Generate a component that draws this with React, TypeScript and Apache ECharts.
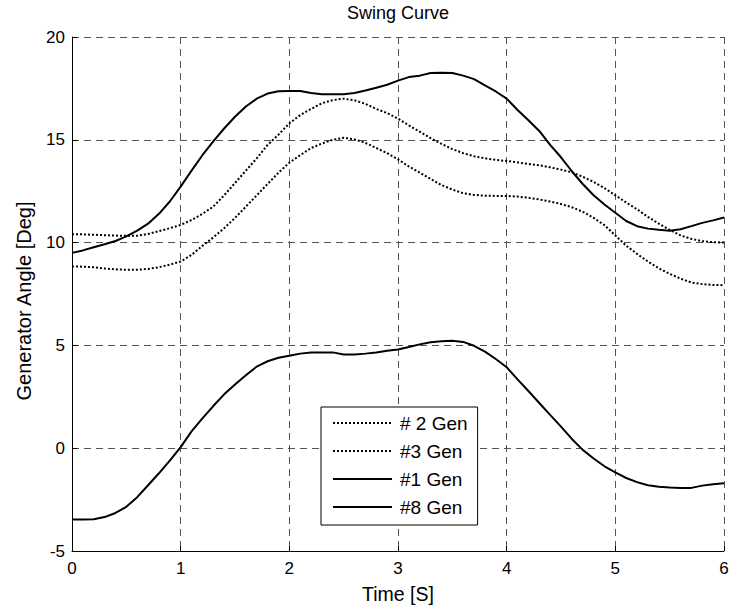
import React, { useEffect, useRef } from "react";
import * as echarts from "echarts";

const time: number[] = Array.from({ length: 61 }, (_, i) => Math.round(i) / 10);

const gen2: number[] = [
  10.41, 10.4, 10.38, 10.36, 10.34, 10.33, 10.33, 10.42, 10.56, 10.7,
  10.86, 11.1, 11.4, 11.75, 12.3, 12.9, 13.5, 14.1, 14.75, 15.25,
  15.8, 16.2, 16.5, 16.78, 16.93, 17.0, 16.92, 16.75, 16.5, 16.3,
  16.03, 15.7, 15.4, 15.08, 14.8, 14.55, 14.35, 14.2, 14.1, 14.02,
  13.97, 13.9, 13.83, 13.76, 13.66, 13.55, 13.42, 13.2, 12.95, 12.65,
  12.3, 11.95, 11.62, 11.25, 10.92, 10.62, 10.35, 10.18, 10.07, 10.02,
  10.0,
];

const gen3: number[] = [
  8.84, 8.83, 8.8, 8.74, 8.7, 8.68, 8.68, 8.72, 8.8, 8.93,
  9.08, 9.4, 9.84, 10.25, 10.7, 11.2, 11.75, 12.3, 12.85, 13.4,
  13.89, 14.25, 14.6, 14.82, 15.0, 15.1, 15.02, 14.85, 14.6, 14.35,
  14.05, 13.7, 13.4, 13.1, 12.8, 12.58, 12.4, 12.32, 12.28, 12.27,
  12.27, 12.24, 12.18, 12.1, 12.0, 11.88, 11.72, 11.5, 11.2, 10.85,
  10.35, 9.85, 9.45, 9.08, 8.75, 8.48, 8.25, 8.06, 7.98, 7.94,
  7.93,
];

const gen1: number[] = [
  9.5, 9.62, 9.77, 9.92, 10.08, 10.3, 10.58, 10.92, 11.4, 12.0,
  12.72, 13.5, 14.25, 14.92, 15.55, 16.12, 16.62, 17.0, 17.25, 17.36,
  17.37, 17.37, 17.28, 17.21, 17.21, 17.21, 17.28, 17.4, 17.53, 17.68,
  17.88, 18.05, 18.12, 18.25, 18.26, 18.25, 18.12, 17.95, 17.65, 17.35,
  17.0, 16.45, 15.95, 15.43, 14.75, 14.15, 13.47, 12.85, 12.3, 11.85,
  11.45, 11.05, 10.8, 10.68, 10.62, 10.58, 10.65, 10.8, 10.96, 11.08,
  11.22,
];

const gen8: number[] = [
  -3.47, -3.47, -3.46, -3.35, -3.15, -2.85, -2.38, -1.8, -1.22, -0.6,
  0.05, 0.82, 1.45, 2.05, 2.62, 3.1, 3.55, 3.97, 4.23, 4.4,
  4.5, 4.6, 4.66, 4.66, 4.66, 4.56, 4.56, 4.6, 4.66, 4.74,
  4.8, 4.92, 5.05, 5.15, 5.2, 5.23, 5.17, 4.98, 4.7, 4.34,
  3.94, 3.35, 2.78, 2.2, 1.62, 1.05, 0.45, -0.08, -0.5, -0.88,
  -1.18, -1.45, -1.65, -1.8, -1.88, -1.91, -1.93, -1.93, -1.82, -1.75,
  -1.7,
];

const seriesNames: string[] = ["# 2 Gen", "#3 Gen", "#1 Gen", "#8 Gen"];
const titleText = "Swing Curve";
const xName = "Time [S]";
const yName = "Generator Angle [Deg]";

const FONT = "'Liberation Sans', Arial, Helvetica, sans-serif";

export default function App() {
  const ref = useRef<HTMLDivElement>(null);

  useEffect(() => {
    document.body.style.margin = "0";
    if (!ref.current) return;
    const chart = echarts.init(ref.current, undefined, { renderer: "svg" });

    const pair = (arr: number[]) => time.map((t, i) => [t, arr[i]]);
    const dotted = { color: "#000", width: 2, type: [2, 2] as number[], cap: "butt" as const };
    const solid = { color: "#000", width: 2, type: "solid" as const };

    const gridLine = {
      show: true,
      lineStyle: { color: "#555", width: 1, type: [7, 5] as number[] },
    };

    chart.setOption({
      animation: false,
      backgroundColor: "#fff",
      textStyle: { fontFamily: FONT, color: "#000" },
      title: {
        text: titleText,
        left: 347,
        top: 4,
        padding: 0,
        textStyle: { fontFamily: FONT, fontSize: 18, fontWeight: "normal", color: "#000" },
      },
      grid: { left: 72, right: 12, top: 37, bottom: 57, containLabel: false },
      legend: {
        data: seriesNames,
        orient: "vertical",
        left: 321,
        top: 407,
        padding: [6.5, 10, 8.5, 11],
        itemWidth: 59,
        itemHeight: 19,
        itemGap: 9,
        borderColor: "#000",
        borderWidth: 1,
        backgroundColor: "#fff",
        selectedMode: false,
        itemStyle: { opacity: 0, borderWidth: 0 },
        textStyle: { fontFamily: FONT, fontSize: 19, color: "#000", padding: [0, 0, 0, 3] },
      },
      xAxis: {
        type: "value",
        min: 0,
        max: 6,
        interval: 1,
        name: xName,
        nameLocation: "middle",
        nameGap: 33,
        nameTextStyle: { fontFamily: FONT, fontSize: 19.5, color: "#000" },
        axisLine: { show: true, onZero: false, lineStyle: { color: "#000", width: 1 } },
        axisTick: { show: true, inside: true, length: 5, lineStyle: { color: "#000" } },
        axisLabel: { fontFamily: FONT, fontSize: 17, color: "#000", margin: 9 },
        splitLine: gridLine,
      },
      yAxis: {
        type: "value",
        min: -5,
        max: 20,
        interval: 5,
        name: yName,
        nameLocation: "middle",
        nameGap: 38,
        nameTextStyle: { fontFamily: FONT, fontSize: 20, color: "#000", padding: [0, 14, 0, 0] },
        axisLine: { show: true, onZero: false, lineStyle: { color: "#000", width: 1 } },
        axisTick: { show: true, inside: true, length: 5, lineStyle: { color: "#000" } },
        axisLabel: { fontFamily: FONT, fontSize: 17, color: "#000", margin: 7 },
        splitLine: gridLine,
      },
      series: [
        { name: seriesNames[0], type: "line", data: pair(gen2), symbol: "none", lineStyle: dotted, itemStyle: { color: "#000" } },
        { name: seriesNames[1], type: "line", data: pair(gen3), symbol: "none", lineStyle: dotted, itemStyle: { color: "#000" } },
        { name: seriesNames[2], type: "line", data: pair(gen1), symbol: "none", lineStyle: solid, itemStyle: { color: "#000" } },
        { name: seriesNames[3], type: "line", data: pair(gen8), symbol: "none", lineStyle: solid, itemStyle: { color: "#000" } },
      ],
    });

    return () => chart.dispose();
  }, []);

  return <div ref={ref} style={{ width: 736, height: 609 }} />;
}
